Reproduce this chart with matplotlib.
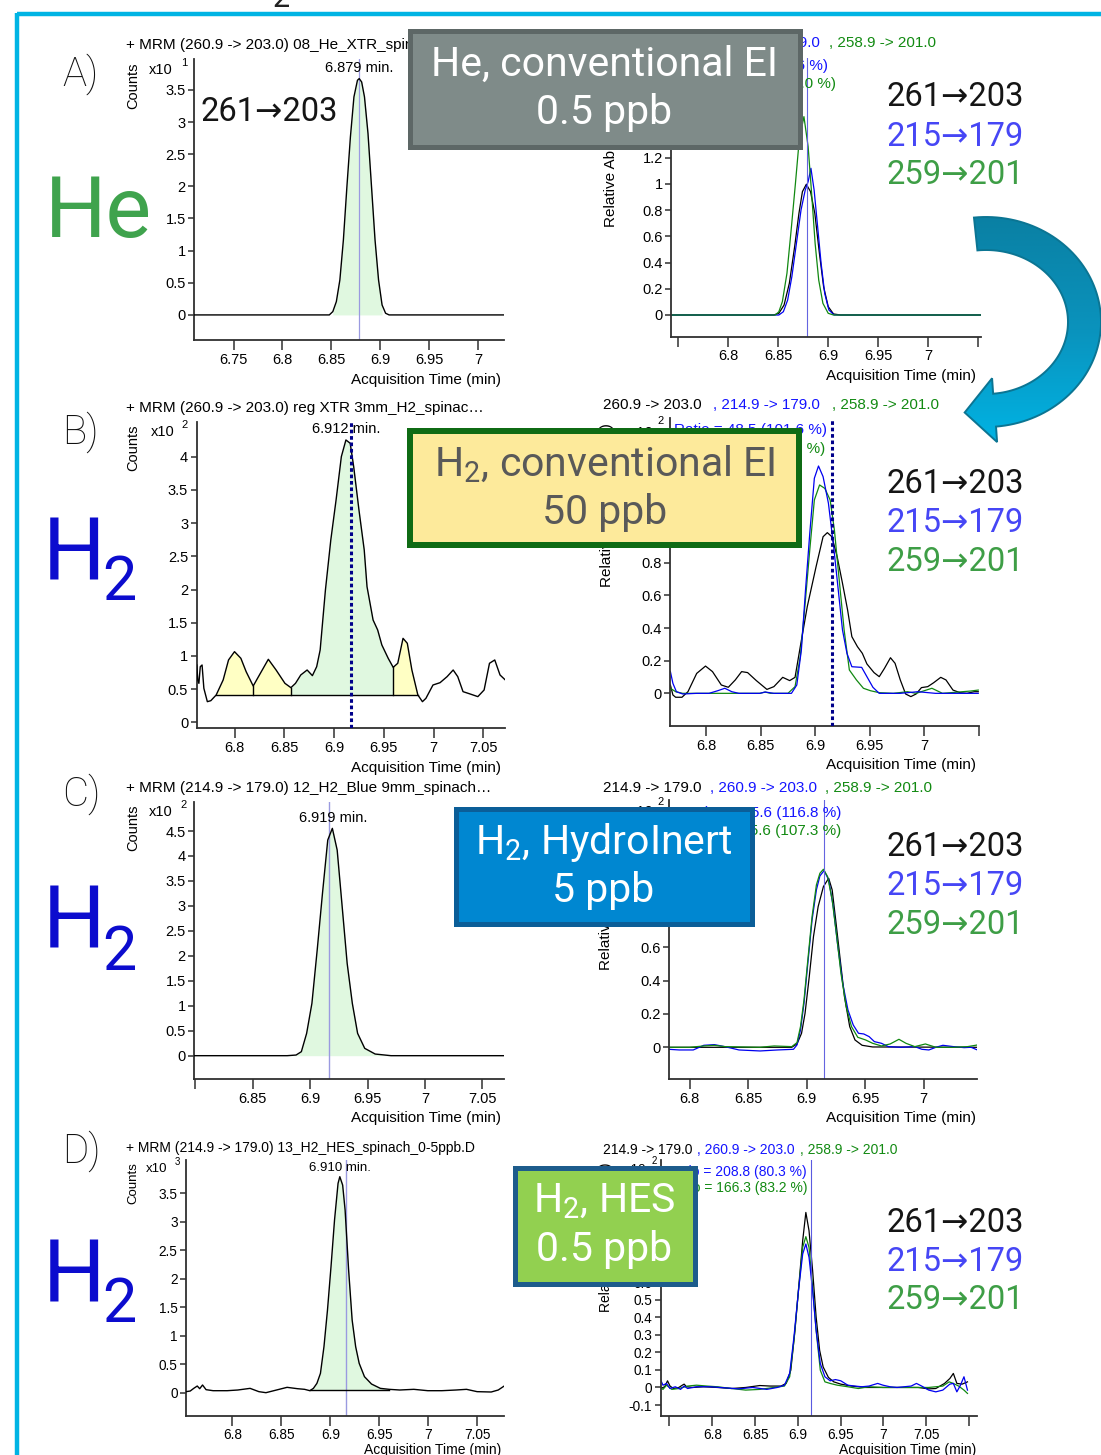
import numpy as np
import matplotlib
matplotlib.use('Agg')
import matplotlib.pyplot as plt
from matplotlib.patches import Rectangle, Polygon
from matplotlib.colors import LinearSegmentedColormap

W, H = 1101, 1455
plt.rcParams['font.family'] = ['Liberation Sans', 'DejaVu Sans']
plt.rcParams['mathtext.fontset'] = 'custom'
plt.rcParams['mathtext.rm'] = 'Roboto'
plt.rcParams['mathtext.it'] = 'Roboto:italic'
plt.rcParams['mathtext.bf'] = 'Roboto:bold'

# ------------------------------------------------------------------ data
# A) He, conventional EI, 0.5 ppb
a_l_t = [6.7097, 6.848, 6.8516, 6.8552, 6.8588, 6.8624, 6.866, 6.8696, 6.8732, 6.8768, 6.8786,
         6.8811, 6.884, 6.8876, 6.8912, 6.8948, 6.8984, 6.902, 6.9056, 6.9092, 7.027]
a_l_y = [0, 0, 0.052, 0.207, 0.543, 1.165, 1.993, 2.769, 3.39, 3.649, 3.675,
         3.623, 3.39, 2.821, 1.993, 1.165, 0.543, 0.155, 0.026, 0, 0]
a_l_int = [6.8516, 6.902]
a_l_rt = 6.878

a_r_k_t = [6.7428, 6.8453, 6.8506, 6.8558, 6.8611, 6.8664, 6.8707, 6.8742, 6.8781, 6.8823, 6.8866,
           6.8912, 6.8954, 6.9000, 6.9053, 6.9124, 7.053]
a_r_k_y = [0, 0, 0.013, 0.076, 0.242, 0.521, 0.775, 0.941, 0.997, 0.941, 0.775,
           0.470, 0.216, 0.064, 0.008, 0, 0]
a_r_b_t = [6.7428, 6.8506, 6.8551, 6.8594, 6.8636, 6.8682, 6.8728, 6.8770, 6.8799, 6.8827, 6.8859,
           6.8894, 6.8929, 6.8965, 6.9007, 6.906, 7.053]
a_r_b_y = [0, 0, 0.025, 0.114, 0.292, 0.547, 0.801, 0.953, 1.017, 1.119, 0.953,
           0.674, 0.394, 0.165, 0.038, 0, 0]
a_r_g_t = [6.7428, 6.847, 6.8506, 6.8541, 6.8587, 6.8629, 6.8672, 6.8710, 6.8757, 6.8799, 6.8834,
           6.8869, 6.8905, 6.8947, 6.9000, 6.9053, 7.053]
a_r_g_y = [0, 0, 0.025, 0.102, 0.318, 0.648, 1.004, 1.335, 1.513, 1.284, 0.928,
           0.547, 0.267, 0.089, 0.013, 0, 0]
a_r_rt = 6.879

# B) H2, conventional EI, 50 ppb
b_l_t = [6.7619, 6.7629, 6.7640, 6.7654, 6.7672, 6.7690, 6.7725, 6.7760, 6.7814, 6.7884,
         6.7938, 6.7998, 6.8062, 6.8115, 6.8186, 6.8239, 6.8338, 6.8416, 6.8505, 6.8565,
         6.8611, 6.8664, 6.8728, 6.8781, 6.8824, 6.8859, 6.8912, 6.8966, 6.9019, 6.9072,
         6.9118, 6.9161, 6.9196, 6.9249, 6.9302, 6.9330, 6.9391, 6.9437, 6.9479, 6.9543,
         6.9593, 6.9639, 6.9692, 6.9735, 6.9781, 6.9841, 6.9887, 6.9922, 6.9993, 7.0064,
         7.0135, 7.0196, 7.0242, 7.0295, 7.0366, 7.0444, 7.0507, 7.0561, 7.0614, 7.0667, 7.0720]
b_l_y = [0.863, 0.638, 0.587, 0.838, 0.863, 0.512, 0.311, 0.326, 0.412, 0.638,
         0.939, 1.064, 0.964, 0.763, 0.547, 0.688, 0.949, 0.788, 0.587, 0.522,
         0.587, 0.713, 0.788, 0.703, 0.838, 1.089, 1.993, 2.746, 3.348, 4.001,
         4.252, 4.202, 3.850, 3.198, 2.595, 2.043, 1.541, 1.391, 1.165, 0.964,
         0.828, 0.889, 1.265, 1.190, 0.788, 0.412, 0.311, 0.361, 0.562, 0.597,
         0.688, 0.788, 0.688, 0.462, 0.427, 0.387, 0.487, 0.889, 0.939, 0.713, 0.638]
b_l_seg = [6.7814, 6.8186, 6.8565, 6.9593, 6.9841]
b_l_seg_kind = ['other', 'other', 'main', 'other']
b_l_base = 0.41
b_l_rt = 6.9167

b_r_k_t = [6.7672, 6.7695, 6.7720, 6.7778, 6.7833, 6.7913, 6.7994, 6.8058, 6.8139, 6.8203,
           6.8267, 6.8325, 6.8380, 6.8460, 6.8557, 6.8621, 6.8702, 6.8766, 6.8815, 6.8863,
           6.8927, 6.9008, 6.9072, 6.9111, 6.9153, 6.9201, 6.9250, 6.9297, 6.9336, 6.9387,
           6.9432, 6.9474, 6.9539, 6.9587, 6.9635, 6.9690, 6.9732, 6.9780, 6.9829, 6.9877,
           6.9925, 6.9974, 7.0032, 7.0086, 7.0151, 7.0199, 7.0263, 7.0328, 7.0392, 7.0457, 7.0495]
b_r_k_y = [0.051, -0.010, -0.024, -0.024, 0.010, 0.122, 0.167, 0.133, 0.051, 0.037,
           0.082, 0.133, 0.127, 0.078, 0.024, 0.041, 0.098, 0.078, 0.098, 0.286,
           0.531, 0.776, 0.959, 0.984, 0.959, 0.837, 0.674, 0.510, 0.347, 0.286,
           0.245, 0.180, 0.127, 0.102, 0.153, 0.218, 0.184, 0.082, -0.004, -0.020,
           -0.004, 0.035, 0.041, 0.065, 0.098, 0.082, 0.020, 0.004, 0, 0.010, 0.010]
b_r_b_t = [6.7672, 6.7695, 6.7727, 6.7785, 6.7913, 6.8026, 6.8106, 6.8171, 6.8235, 6.8300,
           6.8492, 6.8541, 6.8621, 6.8782, 6.8831, 6.8873, 6.8911, 6.8950, 6.8992, 6.9030,
           6.9072, 6.9121, 6.9169, 6.9208, 6.9250, 6.9291, 6.9336, 6.9426, 6.9474, 6.9529,
           6.9587, 6.9780, 6.9941, 7.0102, 7.0495]
b_r_b_y = [0.133, 0.061, 0.010, -0.004, 0, 0, 0.016, 0.031, 0.010, 0,
           0, 0.008, 0, 0, 0.051, 0.265, 0.633, 0.980, 1.317, 1.392,
           1.327, 1.164, 0.898, 0.653, 0.388, 0.245, 0.163, 0.159, 0.102, 0.037,
           0, 0, 0.010, 0, 0]
b_r_g_t = [6.7672, 6.7720, 6.7785, 6.8492, 6.8541, 6.8589, 6.8750, 6.8815, 6.8863, 6.8905,
           6.8950, 6.8992, 6.9040, 6.9088, 6.9137, 6.9176, 6.9217, 6.9265, 6.9313, 6.9378,
           6.9442, 6.9507, 6.9587, 6.9716, 6.9845, 6.9925, 7.0070, 7.0167, 7.0424, 7.0495]
b_r_g_y = [0.031, 0.010, 0, 0, 0.008, 0, 0, 0.041, 0.225, 0.531,
           0.878, 1.184, 1.276, 1.255, 1.184, 1.000, 0.714, 0.388, 0.143, 0.082,
           0.031, 0.016, 0.004, 0, 0.010, 0, 0.031, 0, 0.014, 0.020]
b_r_rt = 6.9153

# C) H2, HydroInert, 5 ppb
c_l_t = [6.7988, 6.8799, 6.8877, 6.8923, 6.8969, 6.9015, 6.9061, 6.9107, 6.9153, 6.9193,
         6.9235, 6.9276, 6.9322, 6.9367, 6.9413, 6.9475, 6.9566, 6.9704, 7.0688]
c_l_y = [0, 0, 0.013, 0.080, 0.447, 1.048, 2.116, 3.251, 4.319, 4.553,
         4.119, 3.051, 1.849, 1.048, 0.447, 0.147, 0.033, 0, 0]
c_l_int = [6.8799, 6.9704]
c_l_rt = 6.9162

c_r_k_t = [6.7819, 6.8872, 6.8917, 6.8956, 6.8986, 6.9022, 6.9058, 6.9098, 6.9143, 6.9188,
           6.9218, 6.9248, 6.9287, 6.9323, 6.9368, 6.9413, 6.9474, 6.9564, 7.0460]
c_r_k_y = [0, 0, 0.020, 0.084, 0.204, 0.424, 0.664, 0.844, 0.964, 1.014,
           0.944, 0.764, 0.524, 0.304, 0.124, 0.044, 0.012, 0.002, 0]
c_r_b_t = [6.7819, 6.7910, 6.8030, 6.8120, 6.8210, 6.8300, 6.8421, 6.8601, 6.8752, 6.8887,
           6.8917, 6.8947, 6.8977, 6.9007, 6.9046, 6.9083, 6.9113, 6.9149, 6.9188, 6.9227,
           6.9263, 6.9308, 6.9353, 6.9398, 6.9443, 6.9488, 6.9534, 6.9579, 6.9639, 6.9699,
           6.9804, 6.9925, 6.9985, 7.0045, 7.0105, 7.0165, 7.0255, 7.0346, 7.0406, 7.0460]
c_r_b_y = [-0.012, -0.016, -0.016, 0.012, 0.016, 0.004, -0.016, -0.022, -0.016, -0.012,
           0.014, 0.104, 0.264, 0.484, 0.764, 0.944, 1.028, 1.060, 1.004, 0.844,
           0.624, 0.384, 0.224, 0.134, 0.084, 0.080, 0.064, 0.034, 0.024, 0.004,
           0, 0.004, -0.012, -0.016, 0, 0.012, 0.004, -0.002, 0, -0.016]
c_r_g_t = [6.7819, 6.8000, 6.8120, 6.8210, 6.8300, 6.8601, 6.8722, 6.8872, 6.8917, 6.8947,
           6.8977, 6.9007, 6.9046, 6.9083, 6.9113, 6.9143, 6.9179, 6.9218, 6.9257, 6.9293,
           6.9338, 6.9383, 6.9437, 6.9504, 6.9564, 6.9639, 6.9714, 6.9789, 6.9849, 6.9925,
           7.0015, 7.0105, 7.0255, 7.0376, 7.0460]
c_r_g_y = [0, 0, 0.008, 0.012, 0.004, 0, 0.008, 0.004, 0.028, 0.124,
           0.284, 0.504, 0.784, 0.974, 1.044, 1.068, 1.024, 0.884, 0.664, 0.444,
           0.244, 0.124, 0.060, 0.044, 0.024, 0.008, 0.020, 0.048, 0.024, 0.004,
           0.020, 0, 0, 0.004, 0.014]
c_r_rt = 6.9151

# D) H2, HES, 0.5 ppb
d_l_t = [6.7525, 6.7568, 6.7604, 6.7640, 6.7665, 6.7694, 6.7730, 6.7802, 6.7946, 6.8054,
         6.8180, 6.8270, 6.8342, 6.8450, 6.8558, 6.8665, 6.8737, 6.8791, 6.8827, 6.8863,
         6.8899, 6.8935, 6.8971, 6.9007, 6.9043, 6.9079, 6.9097, 6.9126, 6.9151, 6.9187,
         6.9223, 6.9259, 6.9295, 6.9349, 6.9421, 6.9511, 6.9601, 6.9709, 6.9853, 6.9996,
         7.0140, 7.0284, 7.0392, 7.0500, 7.0644, 7.0716, 7.0777]
d_l_y = [0.018, 0.029, 0.076, 0.117, 0.070, 0.135, 0.053, 0.035, 0.035, 0.047,
         0.076, 0.018, 0, 0.047, 0.094, 0.070, 0.059, 0.035, 0.076, 0.164,
         0.339, 0.807, 1.451, 2.212, 3.031, 3.675, 3.792, 3.645, 3.207, 2.153,
         1.276, 0.807, 0.515, 0.281, 0.152, 0.076, 0.059, 0.047, 0.059, 0.035,
         0.035, 0.047, 0.059, 0.018, 0.012, 0.047, 0.117]
d_l_int = [6.8791, 6.9601]
d_l_base = 0.047
d_l_rt = 6.9159

d_r_k_t = [6.7395, 6.7444, 6.7477, 6.7506, 6.7547, 6.7609, 6.7650, 6.7671, 6.7699, 6.7773,
           6.7897, 6.8061, 6.8226, 6.8390, 6.8555, 6.8678, 6.8802, 6.8863, 6.8917, 6.8966,
           6.9016, 6.9056, 6.9093, 6.9130, 6.9172, 6.9213, 6.9254, 6.9295, 6.9357, 6.9419,
           6.9501, 6.9624, 6.9789, 6.9994, 7.0200, 7.0405, 7.0528, 7.0611, 7.0713, 7.0775,
           7.0816, 7.0857, 7.0919, 7.0981]
d_r_k_y = [-0.006, 0.004, 0.038, 0.008, -0.006, 0, 0.013, 0.019, 0.004, 0,
           0.004, 0, -0.006, 0, 0.011, 0.008, 0.008, 0.023, 0.098, 0.326,
           0.610, 0.837, 0.998, 0.894, 0.667, 0.402, 0.212, 0.117, 0.057, 0.032,
           0.019, 0.008, 0, 0, 0, 0, -0.008, -0.006, 0.023, 0.051,
           0.080, 0.023, 0.019, 0.032]
d_r_b_t = [6.7395, 6.7424, 6.7465, 6.7506, 6.7568, 6.7629, 6.7671, 6.7712, 6.7815, 6.7979,
           6.8143, 6.8308, 6.8472, 6.8637, 6.8760, 6.8843, 6.8904, 6.8954, 6.9007, 6.9056,
           6.9093, 6.9130, 6.9172, 6.9213, 6.9262, 6.9316, 6.9377, 6.9439, 6.9501, 6.9583,
           6.9665, 6.9748, 6.9830, 6.9932, 6.9994, 7.0076, 7.0158, 7.0241, 7.0323, 7.0385,
           7.0446, 7.0528, 7.0611, 7.0693, 7.0775, 7.0816, 7.0857, 7.0899, 7.0940, 7.0981]
d_r_b_y = [0.045, 0.013, 0.023, -0.006, 0.004, -0.011, 0.008, -0.006, 0.004, 0.004,
           -0.002, -0.008, 0, -0.011, 0, 0.013, 0.080, 0.288, 0.553, 0.761,
           0.818, 0.742, 0.553, 0.326, 0.136, 0.061, 0.038, 0.045, 0.038, 0.013,
           0.008, 0.004, 0.008, 0.023, 0.013, 0.004, 0, 0.004, 0.008, 0.023,
           0.008, -0.015, -0.025, -0.015, 0.019, 0.023, -0.025, 0.013, 0.061, -0.015]
d_r_g_t = [6.7395, 6.7424, 6.7465, 6.7527, 6.7609, 6.7712, 6.7815, 6.7938, 6.8061, 6.8226,
           6.8390, 6.8555, 6.8719, 6.8843, 6.8904, 6.8954, 6.9007, 6.9056, 6.9093, 6.9130,
           6.9172, 6.9213, 6.9262, 6.9316, 6.9377, 6.9460, 6.9583, 6.9706, 6.9830, 6.9994,
           7.0200, 7.0405, 7.0528, 7.0611, 7.0693, 7.0767, 7.0816, 7.0878, 7.0940, 7.0981]
d_r_g_y = [0, -0.011, 0.013, -0.011, -0.006, 0.008, 0.013, 0.008, 0.004, -0.006,
           -0.015, -0.011, 0, 0.008, 0.061, 0.269, 0.553, 0.799, 0.860, 0.799,
           0.572, 0.326, 0.098, 0.032, 0.023, 0.013, 0.004, -0.006, 0.004, 0,
           0, 0, 0, 0.004, 0.008, 0.032, 0.023, 0.008, -0.015, -0.034]
d_r_rt = 6.915

# ---- tick values / labels
a_l_xt = [6.75, 6.8, 6.85, 6.9, 6.95, 7.0]
a_l_xl = ['6.75', '6.8', '6.85', '6.9', '6.95', '7']
a_l_yt = [0, 0.5, 1, 1.5, 2, 2.5, 3, 3.5]
a_l_yl = ['0', '0.5', '1', '1.5', '2', '2.5', '3', '3.5']
a_r_xt = [6.8, 6.85, 6.9, 6.95, 7.0]
a_r_xl = ['6.8', '6.85', '6.9', '6.95', '7']
a_r_xm = [6.75, 7.05]
a_r_yt = [0, 0.2, 0.4, 0.6, 0.8, 1.0, 1.2, 1.4, 1.6, 1.8]
a_r_yl = ['0', '0.2', '0.4', '0.6', '0.8', '1', '1.2', '1.4', '1.6', '1.8']
b_l_xt = [6.8, 6.85, 6.9, 6.95, 7.0, 7.05]
b_l_xl = ['6.8', '6.85', '6.9', '6.95', '7', '7.05']
b_l_yt = [0, 0.5, 1, 1.5, 2, 2.5, 3, 3.5, 4]
b_l_yl = ['0', '0.5', '1', '1.5', '2', '2.5', '3', '3.5', '4']
b_r_xt = [6.8, 6.85, 6.9, 6.95, 7.0]
b_r_xl = ['6.8', '6.85', '6.9', '6.95', '7']
b_r_xm = [7.05]
b_r_yt = [0, 0.2, 0.4, 0.6, 0.8, 1.0, 1.2, 1.4, 1.6]
b_r_yl = ['0', '0.2', '0.4', '0.6', '0.8', '1', '1.2', '1.4', '1.6']
c_l_xt = [6.85, 6.9, 6.95, 7.0, 7.05]
c_l_xl = ['6.85', '6.9', '6.95', '7', '7.05']
c_l_xm = [6.8]
c_l_yt = [0, 0.5, 1, 1.5, 2, 2.5, 3, 3.5, 4, 4.5]
c_l_yl = ['0', '0.5', '1', '1.5', '2', '2.5', '3', '3.5', '4', '4.5']
c_r_xt = [6.8, 6.85, 6.9, 6.95, 7.0]
c_r_xl = ['6.8', '6.85', '6.9', '6.95', '7']
c_r_yt = [0, 0.2, 0.4, 0.6, 0.8, 1.0, 1.2, 1.4]
c_r_yl = ['0', '0.2', '0.4', '0.6', '0.8', '1', '1.2', '1.4']
d_l_xt = [6.8, 6.85, 6.9, 6.95, 7.0, 7.05]
d_l_xl = ['6.8', '6.85', '6.9', '6.95', '7', '7.05']
d_l_yt = [0, 0.5, 1, 1.5, 2, 2.5, 3, 3.5]
d_l_yl = ['0', '0.5', '1', '1.5', '2', '2.5', '3', '3.5']
d_r_xt = [6.8, 6.85, 6.9, 6.95, 7.0, 7.05]
d_r_xl = ['6.8', '6.85', '6.9', '6.95', '7', '7.05']
d_r_xm = [6.75, 7.1]
d_r_yt = [-0.1, 0, 0.1, 0.2, 0.3, 0.4, 0.5, 0.6, 0.7, 0.8, 0.9, 1.0, 1.1, 1.2]
d_r_yl = ['-0.1', '0', '0.1', '0.2', '0.3', '0.4', '0.5', '0.6', '0.7', '0.8', '0.9', '1', '1.1', '1.2']

# ---- texts
headers_left = ['+ MRM (260.9 -> 203.0) 08_He_XTR_spinach_0-5ppb.D',
                '+ MRM (260.9 -> 203.0) reg XTR 3mm_H2_spinac\u2026',
                '+ MRM (214.9 -> 179.0) 12_H2_Blue 9mm_spinach\u2026',
                '+ MRM (214.9 -> 179.0) 13_H2_HES_spinach_0-5ppb.D']
rt_labels = ['6.879 min.', '6.912 min.', '6.919 min.', '6.910 min.']
exponents = ['1', '2', '2', '3']
headers_right = [['260.9 -> 203.0', ', 214.9 -> 179.0', ', 258.9 -> 201.0'],
                 ['260.9 -> 203.0', ', 214.9 -> 179.0', ', 258.9 -> 201.0'],
                 ['214.9 -> 179.0', ', 260.9 -> 203.0', ', 258.9 -> 201.0'],
                 ['214.9 -> 179.0', ', 260.9 -> 203.0', ', 258.9 -> 201.0']]
ratios = [['Ratio = 95.1 (101.6 %)', 'Ratio = 146.3 (98.0 %)'],
          ['Ratio = 48.5 (101.6 %)', 'Ratio = 47.3 (97.1 %)'],
          ['Ratio = 125.6 (116.8 %)', 'Ratio = 115.6 (107.3 %)'],
          ['Ratio = 208.8 (80.3 %)', 'Ratio = 166.3 (83.2 %)']]
transitions = ['261\u2192203', '215\u2192179', '259\u2192201']
panel_letters = ['A)', 'B)', 'C)', 'D)']
box_line1 = ['He, conventional EI', r'H$_2$, conventional EI', r'H$_2$, HydroInert', r'H$_2$, HES']
box_line2 = ['0.5 ppb', '50 ppb', '5 ppb', '0.5 ppb']

# ------------------------------------------------------------------ figure
fig = plt.figure(figsize=(W / 100, H / 100), dpi=100)
PLOT = ['Liberation Sans', 'DejaVu Sans']
ROB = ['Roboto', 'DejaVu Sans']

K, B, G = '#000000', '#0000f0', '#118811'
FILL_MAIN, FILL_OTHER = '#e0f8e0', '#ffffc4'
RTL = '#9a9ae0'


def make_panel(box, xlim, ylim, xt, xl, yt, yl, xminor=(), fs=10.5):
    x0, x1, y0, y1 = box
    ax = fig.add_axes([x0 / W, 1 - y1 / H, (x1 - x0) / W, (y1 - y0) / H])
    ax.set_xlim(*xlim)
    ax.set_ylim(*ylim)
    ax.set_xticks(xt)
    ax.set_xticklabels(xl, family=PLOT)
    ax.set_xticks(list(xminor), minor=True)
    ax.set_yticks(yt)
    ax.set_yticklabels(yl, family=PLOT)
    for s in ('top', 'right'):
        ax.spines[s].set_visible(False)
    for s in ('left', 'bottom'):
        ax.spines[s].set_color('#303030')
        ax.spines[s].set_linewidth(1.3)
    ax.tick_params(axis='x', which='both', direction='out', length=7, width=1.1, pad=2,
                   labelsize=fs, color='#303030')
    ax.tick_params(axis='y', which='both', direction='out', length=4, width=1.1, pad=2,
                   labelsize=fs, color='#303030')
    ax.patch.set_visible(False)
    return ax


def fill_seg(ax, t, y, a, b, base, color):
    t = np.asarray(t)
    y = np.asarray(y)
    m = (t >= a - 1e-9) & (t <= b + 1e-9)
    ax.fill_between(t[m], y[m], base, color=color, lw=0, zorder=1)


# ---- A left
ax = make_panel((194, 504, 59, 340), (6.7095, 7.0268), (-0.39, 3.98), a_l_xt, a_l_xl, a_l_yt, a_l_yl)
fill_seg(ax, a_l_t, a_l_y, a_l_int[0], a_l_int[1], 0, FILL_MAIN)
ax.plot(a_l_t, a_l_y, color=K, lw=1.0, zorder=3)
ax.axvline(a_l_rt, color=RTL, lw=0.9, zorder=2)

# ---- A right
ax = make_panel((671.4, 981, 58, 336.7), (6.743, 7.053), (-0.1655, 1.96), a_r_xt, a_r_xl, a_r_yt, a_r_yl, a_r_xm)
ax.plot(a_r_k_t, a_r_k_y, color=K, lw=0.9)
ax.plot(a_r_b_t, a_r_b_y, color=B, lw=0.9)
ax.plot(a_r_g_t, a_r_g_y, color=G, lw=0.9)
ax.axvline(a_r_rt, color='#6464e0', lw=0.8)

# ---- B left
ax = make_panel((196.5, 505, 421.7, 728.3), (6.7616, 7.0717), (-0.09, 4.527), b_l_xt, b_l_xl, b_l_yt, b_l_yl)
for i, kind in enumerate(b_l_seg_kind):
    fill_seg(ax, b_l_t, b_l_y, b_l_seg[i], b_l_seg[i + 1], b_l_base,
             FILL_MAIN if kind == 'main' else FILL_OTHER)
ax.plot([b_l_seg[0], b_l_seg[-1]], [b_l_base, b_l_base], color=K, lw=1.0, zorder=3)
bt = np.asarray(b_l_t)
by = np.asarray(b_l_y)
for xb in b_l_seg[1:-1]:
    yb = by[np.argmin(np.abs(bt - xb))]
    ax.plot([xb, xb], [b_l_base, yb], color=K, lw=1.0, zorder=3)
ax.plot(b_l_t, b_l_y, color=K, lw=1.0, zorder=3)
ax.axvline(b_l_rt, color='#00008b', lw=2.2, ls=(0, (1.2, 0.9)), zorder=4)

# ---- B right
ax = make_panel((670.4, 978.8, 418, 726), (6.7672, 7.05), (-0.2, 1.686), b_r_xt, b_r_xl, b_r_yt, b_r_yl, b_r_xm)
ax.plot(b_r_k_t, b_r_k_y, color=K, lw=0.9)
ax.plot(b_r_g_t, b_r_g_y, color=G, lw=0.9)
ax.plot(b_r_b_t, b_r_b_y, color=B, lw=0.9)
ax.axvline(b_r_rt, color='#00008b', lw=2.2, ls=(0, (1.2, 0.9)), zorder=4)

# ---- C left
ax = make_panel((194, 504, 801.7, 1079.3), (6.7988, 7.0688), (-0.473, 5.087), c_l_xt, c_l_xl, c_l_yt, c_l_yl, c_l_xm)
fill_seg(ax, c_l_t, c_l_y, c_l_int[0], c_l_int[1], 0, FILL_MAIN)
ax.plot(c_l_t, c_l_y, color=K, lw=1.0, zorder=3)
ax.axvline(c_l_rt, color=RTL, lw=1.0, zorder=2)

# ---- C right
ax = make_panel((668.6, 977.4, 800, 1079.3), (6.7819, 7.046), (-0.192, 1.4835), c_r_xt, c_r_xl, c_r_yt, c_r_yl)
ax.plot(c_r_k_t, c_r_k_y, color=K, lw=0.9)
ax.plot(c_r_b_t, c_r_b_y, color=B, lw=0.9)
ax.plot(c_r_g_t, c_r_g_y, color=G, lw=0.9)
ax.axvline(c_r_rt, color='#6464e0', lw=0.8)

# ---- D left
ax = make_panel((186, 504, 1160, 1415.7), (6.7525, 7.0775), (-0.404, 4.085), d_l_xt, d_l_xl, d_l_yt, d_l_yl, fs=9.8)
fill_seg(ax, d_l_t, d_l_y, d_l_int[0], d_l_int[1], d_l_base, FILL_MAIN)
ax.plot([d_l_int[0], d_l_int[1]], [d_l_base, d_l_base], color=K, lw=1.0, zorder=3)
ax.plot(d_l_t, d_l_y, color=K, lw=1.0, zorder=3)
ax.axvline(d_l_rt, color=RTL, lw=1.0, zorder=2)

# ---- D right
ax = make_panel((660.5, 977.4, 1160, 1415.7), (6.7395, 7.1097), (-0.161, 1.297), d_r_xt, d_r_xl, d_r_yt, d_r_yl, d_r_xm, fs=9.8)
ax.plot(d_r_k_t, d_r_k_y, color=K, lw=0.9)
ax.plot(d_r_g_t, d_r_g_y, color=G, lw=0.9)
ax.plot(d_r_b_t, d_r_b_y, color=B, lw=0.9)
ax.axvline(d_r_rt, color='#5a5ae0', lw=0.8)

# ------------------------------------------------------------------ overlay (pixel coords)
ov = fig.add_axes([0, 0, 1, 1])
ov.set_zorder(10)
ov.axis('off')

# cyan frame
ov.plot([17, 1101], [14, 14], color='#00b4e4', lw=3.2, solid_capstyle='butt', zorder=2)
ov.plot([17, 17], [12.5, 1455], color='#00b4e4', lw=3.2, solid_capstyle='butt', zorder=2)
ov.text(281, 7, '2', fontsize=22, family=ROB, ha='center', va='baseline', color='#222')

# per-panel geometry (pixel positions)
hdr_y = [45, 408, 788, 1148]
xten = [(149, 70, 181, 63), (151, 432, 181, 425), (149, 812, 180, 805), (146, 1169, 175, 1162)]
counts_y = [86, 448, 828, 1183]
rt_pos = [(359, 68), (346, 429), (333, 818), (340, 1168)]
acq_y = [(380, 376), (768, 765), (1118, 1118), (1450, 1450)]
hdr_r = [(43, [603, 713, 829]), (405, [603, 713, 832]), (788, [603, 710, 825]), (1150, [603, 697, 800])]
ratio_pos = [(828, 66, 836, 84), (827, 430, 825, 449), (841, 813, 841, 831), (807, 1172, 807, 1188)]
relab_pos = [(611, 227), (607, 587), (606, 970), (606, 1312)]
xten_r = [(630, 70, 657, 63), (630, 433, 657, 421), (630, 812, 657, 802), (625, 1170, 652, 1161)]
trans_y = [(97, 137, 175), (484, 523, 562), (847, 886, 925), (1223, 1262, 1300)]
letter_base = [86, 444, 806, 1163]
fsz = [11, 11, 11, 10]

for i in range(4):
    f = fsz[i]
    ov.text(126, hdr_y[i], headers_left[i], fontsize=f, family=PLOT, va='center', ha='left', zorder=3)
    xa, ya, xs, ys = xten[i]
    ov.text(xa, ya, 'x10', fontsize=f - 0.5, family=PLOT, va='center', ha='left', zorder=3)
    ov.text(xs, ys, exponents[i], fontsize=f - 3, family=PLOT, va='center', ha='left', zorder=3)
    ov.text(133, counts_y[i], 'Counts', fontsize=f - 0.5, family=PLOT, rotation=90, va='center', ha='center', zorder=3)
    ov.text(rt_pos[i][0], rt_pos[i][1], rt_labels[i], fontsize=f - 0.5, family=PLOT, ha='center', va='center', zorder=3)
    ov.text(501, acq_y[i][0], 'Acquisition Time (min)', fontsize=f, family=PLOT, ha='right', va='center', zorder=3)
    ov.text(976, acq_y[i][1], 'Acquisition Time (min)', fontsize=f, family=PLOT, ha='right', va='center', zorder=3)
    yh, xs3 = hdr_r[i]
    for txt, xx, cc in zip(headers_right[i], xs3, [K, '#1414ff', '#128a12']):
        ov.text(xx, yh, txt, fontsize=f, family=PLOT, color=cc, ha='left', va='center', zorder=3)
    rb = ratio_pos[i]
    ov.text(rb[0], rb[1], ratios[i][0], fontsize=f, family=PLOT, color='#1414ff', ha='right', va='center', zorder=3)
    ov.text(rb[2], rb[3], ratios[i][1], fontsize=f, family=PLOT, color='#128a12', ha='right', va='center', zorder=3)
    ov.text(relab_pos[i][0], relab_pos[i][1], 'Relative Abundance (%)', fontsize=f, family=PLOT,
            rotation=90, rotation_mode='anchor', ha='left', va='center', zorder=3)
    xa, ya, xs, ys = xten_r[i]
    ov.text(xa, ya, 'x10', fontsize=f - 0.5, family=PLOT, va='center', ha='left', zorder=3)
    ov.text(xs, ys, '2', fontsize=f - 3, family=PLOT, va='center', ha='left', zorder=3)
    for txt, yy, cc in zip(transitions, trans_y[i], ['#151515', '#4646f5', '#3e9e46']):
        ov.text(887, yy, txt, fontsize=23.5, family=ROB, color=cc, ha='left', va='center', zorder=3)
    ov.text(62, letter_base[i], panel_letters[i], fontsize=29, family=ROB, fontweight='light',
            ha='left', va='baseline', color='#111', zorder=3)

ov.text(201, 112, transitions[0], fontsize=23.5, family=ROB, color='#151515',
        ha='left', va='center', zorder=3)

# big gas labels
ov.text(45, 237, 'He', fontsize=62, family=ROB, color='#3fa34d', ha='left', va='baseline', zorder=3)
for hb, tb in [(580, 600), (948, 970), (1302, 1322)]:
    ov.text(43, hb, 'H', fontsize=63, family=ROB, color='#0c0cce', ha='left', va='baseline', zorder=3)
    ov.text(102, tb, '2', fontsize=44, family=ROB, color='#0c0cce', ha='left', va='baseline', zorder=3)

# condition boxes
boxes = [(407, 802, 28, 149, '#7f8b89', '#5d6766', 'white', 5),
         (407, 802, 428, 548, '#fdea9b', '#0f6b14', '#595959', 6),
         (453, 754, 806, 926, '#0087d1', '#0b5e98', 'white', 5),
         (512, 697, 1165, 1286, '#92d050', '#1d5c8c', 'white', 5)]
for i, (x0, x1, y0, y1, fc, ec, tc, lwpx) in enumerate(boxes):
    h = lwpx / 2
    ov.add_patch(Rectangle((x0 + h, y0 + h), (x1 - x0) - lwpx, (y1 - y0) - lwpx, facecolor=fc,
                           edgecolor=ec, lw=lwpx * 0.72, zorder=5))
    cx = (x0 + x1) / 2
    ov.text(cx, y0 + 0.30 * (y1 - y0), box_line1[i], fontsize=29.5, family=ROB, color=tc,
            ha='center', va='center', zorder=6)
    ov.text(cx, y0 + 0.70 * (y1 - y0), box_line2[i], fontsize=29.5, family=ROB, color=tc,
            ha='center', va='center', zorder=6)

# curved arrow (decoration)
acx, acy = 986, 322
rxo, ryo, rxi, ryi = 115, 105, 82, 72
th = np.radians(np.linspace(96, -85, 80))
outer = np.c_[acx + rxo * np.cos(th), acy - ryo * np.sin(th)]
inner = np.c_[acx + rxi * np.cos(th), acy - ryi * np.sin(th)]
mid = (outer[-1] + inner[-1]) / 2
te = th[-1]
d = np.array([0.5 * (rxo + rxi) * np.sin(te), 0.5 * (ryo + ryi) * np.cos(te)])
d = d / np.hypot(*d)
n = np.array([-d[1], d[0]])
if n[1] < 0:
    n = -n
tip = mid + 30 * d
wb = mid + 32 * n
wt = mid - 32 * n
poly = np.vstack([outer, wb, tip, wt, inner[::-1]])
arrow = Polygon(poly, closed=True, facecolor='none', edgecolor='#0b7593', lw=1.4, zorder=4.5)
grad = np.linspace(0, 1, 256).reshape(-1, 1)
cmap = LinearSegmentedColormap.from_list('arr', ['#0a7fa2', '#0a93bd', '#00b5e6'])
im = ov.imshow(grad, extent=(950, 1101, 450, 210), cmap=cmap, aspect='auto', zorder=4, origin='upper')
ov.add_patch(arrow)
im.set_clip_path(arrow)

ov.set_xlim(0, W)
ov.set_ylim(H, 0)

fig.savefig('out.png', dpi=100)
